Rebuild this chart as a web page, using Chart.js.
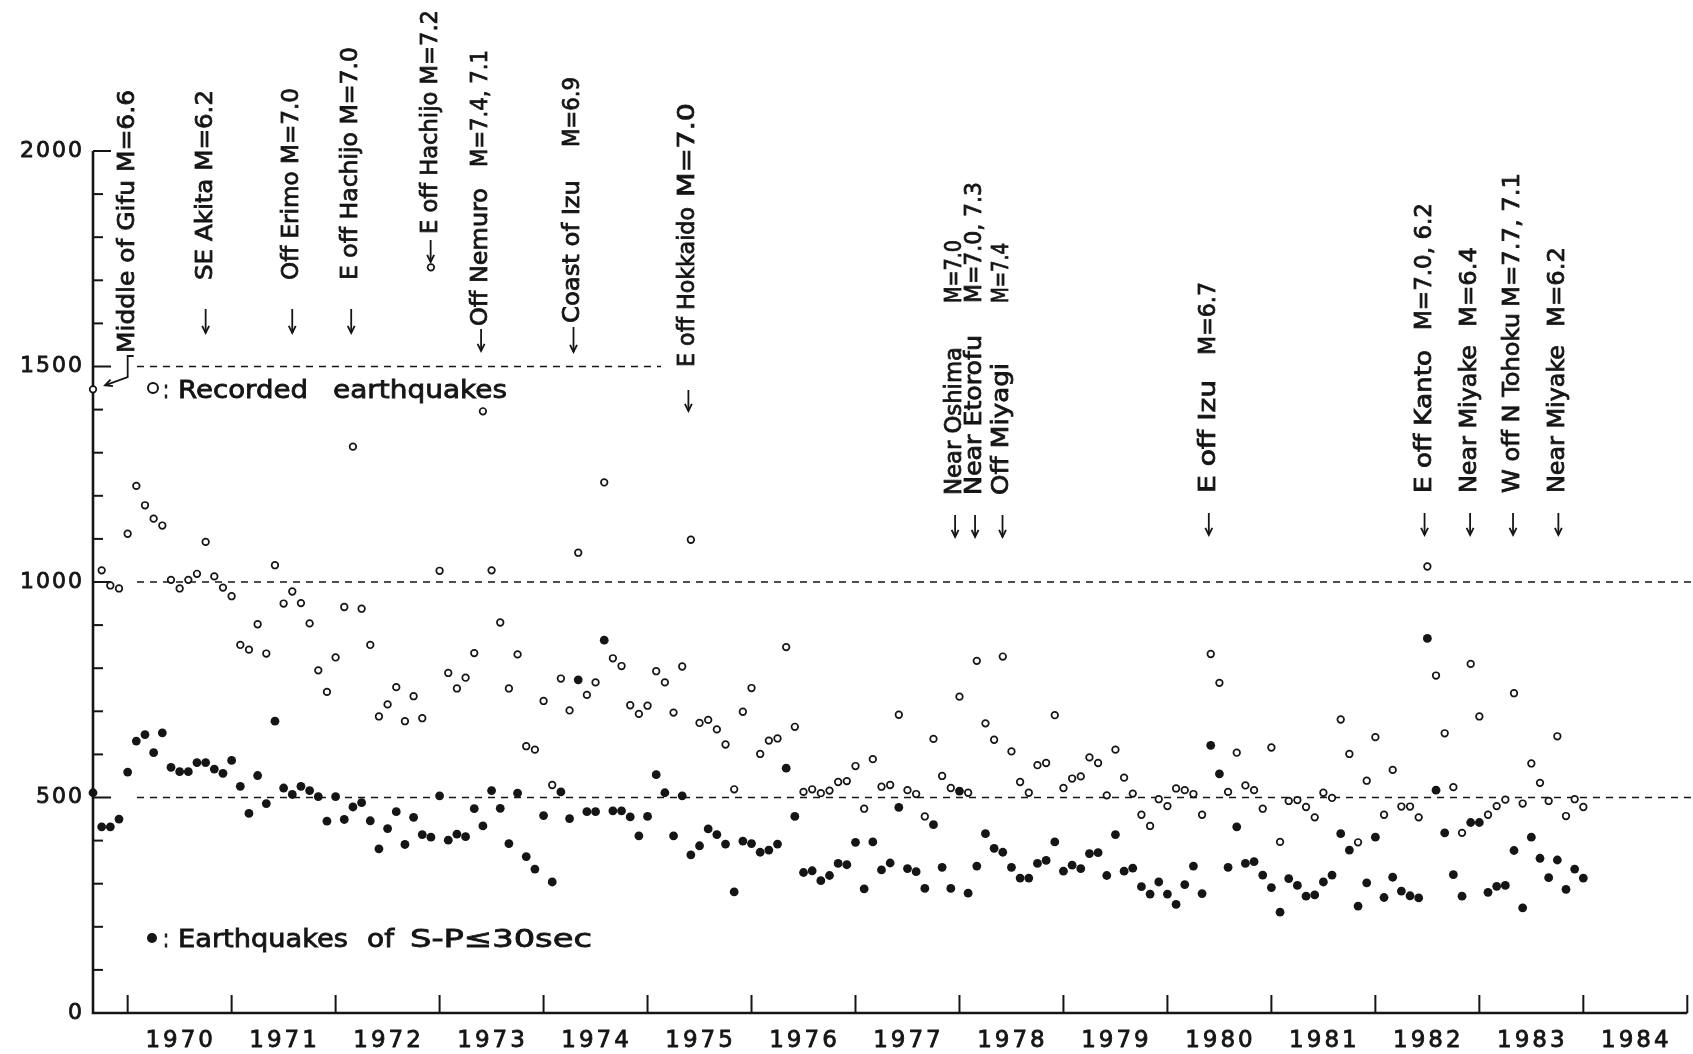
<!DOCTYPE html>
<html>
<head>
<meta charset="utf-8">
<script src="https://cdn.jsdelivr.net/npm/chart.js@4.4.1/dist/chart.umd.min.js"></script>
<style>
  html, body { margin: 0; padding: 0; background: #fff; }
  #wrap { width: 1693px; height: 1054px; }
</style>
</head>
<body>
<div id="wrap"><canvas id="quakes" width="1693" height="1054"></canvas></div>
<script>
// monthly numbers, first value is Sep 1969, last is Jan 1984
const startYear = 1969;
const startMonth = 9;

// open circles: recorded earthquakes
const recorded = [
  1447, 1027, 992, 985,
  1112, 1223, 1178, 1147, 1131, 1005, 985, 1005, 1019, 1093, 1013, 987,
  967, 854, 843, 902, 834, 1039, 950, 978, 951, 904, 795, 745,
  825, 942, 1314, 938, 854, 688, 716, 756, 677, 735, 684, 1730,
  1026, 789, 753, 778, 835, 1396, 1027, 906, 753, 832, 619, 611,
  724, 529, 776, 702, 1068, 738, 767, 1231, 823, 805, 714, 694,
  713, 793, 767, 697, 804, 1098, 673, 680, 658, 623, 519, 699,
  754, 601, 632, 637, 849, 664, 513, 519, 510, 516, 536, 538,
  573, 474, 589, 525, 529, 692, 517, 508, 456, 636, 550, 522,
  734, 511, 817, 672, 634, 827, 607, 536, 511, 575, 580, 691,
  522, 544, 549, 593, 580, 505, 611, 546, 509, 460, 434, 496,
  480, 521, 517, 508, 460, 833, 766, 513, 604, 528, 517, 474,
  616, 397, 492, 494, 478, 454, 511, 499, 681, 601, 396, 539,
  640, 460, 564, 479, 479, 454, 1036, 783, 649, 524, 418, 810,
  688, 460, 480, 495, 742, 486, 579, 534, 492, 642, 457, 496,
  478
];

// filled dots: earthquakes of S-P <= 30 sec
const shortSP = [
  511, 432, 432, 450,
  559, 631, 646, 604, 650, 570, 560, 560, 581, 581, 566, 556,
  586, 526, 463, 551, 486, 677, 522, 507, 526, 516, 502, 445,
  502, 449, 478, 488, 446, 381, 428, 467, 391, 454, 414, 408,
  504, 401, 415, 409, 474, 434, 516, 475, 393, 510, 363, 334,
  458, 304, 513, 451, 773, 467, 467, 865, 469, 469, 455, 411,
  456, 553, 511, 411, 504, 367, 388, 427, 414, 392, 281, 399,
  393, 373, 378, 392, 568, 456, 326, 330, 307, 319, 347, 344,
  396, 288, 397, 332, 348, 477, 335, 328, 289, 437, 338, 289,
  515, 278, 341, 416, 382, 373, 338, 313, 313, 347, 354, 397,
  329, 343, 335, 370, 372, 319, 414, 329, 336, 293, 276, 304,
  276, 252, 298, 341, 277, 621, 555, 338, 432, 347, 351, 320,
  291, 234, 312, 296, 271, 274, 304, 320, 416, 378, 248, 302,
  408, 268, 315, 283, 272, 267, 869, 517, 418, 321, 271, 442,
  442, 280, 294, 296, 377, 244, 408, 359, 314, 355, 287, 334,
  313
];

const yearLabels = ['1970','1971','1972','1973','1974','1975','1976','1977','1978','1979','1980','1981','1982','1983','1984'];
const yTickLabels = [0, 500, 1000, 1500, 2000];
const dashedLevels = [500, 1000, 1500];

// big earthquakes marked on top of the chart
const quakeNames = ['Middle of Gifu','SE Akita','Off Erimo','E off Hachijo','E off Hachijo','Off Nemuro','Coast of Izu','E off Hokkaido',
  'Near Oshima','Near Etorofu','Off Miyagi','E off Izu','E off Kanto','Near Miyake','W off N Tohoku','Near Miyake'];
const quakeMags = ['M=6.6','M=6.2','M=7.0','M=7.0','M=7.2','M=7.4, 7.1','M=6.9','M=7.0',
  'M=7.0','M=7.0, 7.3','M=7.4','M=6.7','M=7.0, 6.2','M=6.4','M=7.7, 7.1','M=6.2'];
const quakeAt = [1970.0, 1970.75, 1971.583, 1972.15, 1972.914, 1973.399, 1974.288, 1975.393,
  1977.958, 1978.15, 1978.414, 1980.398, 1982.473, 1982.911, 1983.324, 1983.76];

// layout of the vertical labels in pixels: [nameBottom, nameTop, magBottom, magTop, arrowTop, arrowBottom]
// magBottom null -> name and magnitude written as one run
const labelLayout = [
  [353, 90, null, null, null, null],
  [280, 90, null, null, 309, 333],
  [280, 88, null, null, 309, 333],
  [280, 47, null, null, 309, 333],
  [234, 10, null, null, 240, 262],
  [326, 188, 167, 50, 329, 351],
  [323, 180, 147, 77, 327, 352],
  [367, 207, 197, 103, 390, 411],
  [495, 347, 303, 240, 515, 537],
  [495, 335, 303, 182, 515, 537],
  [495, 363, 303, 243, 515, 537],
  [493, 380, 355, 282, 513, 535],
  [493, 350, 330, 203, 513, 535],
  [493, 345, 327, 247, 513, 535],
  [493, 313, 307, 173, 513, 535],
  [493, 345, 327, 247, 513, 535]
];

const ink = '#151515';
const labelFont = '23px "DejaVu Sans"';

const toPoints = arr => arr.map((v, i) => ({ x: startYear + (startMonth - 1) / 12 + i / 12, y: v }));

// text a bit heavier than the regular face, like the hand lettering
function inked(ctx, str, x, y) {
  ctx.fillText(str, x, y);
  ctx.lineWidth = 0.8;
  ctx.strokeText(str, x, y);
}

function vText(ctx, str, x, yBottom, yTop) {
  ctx.save();
  ctx.font = labelFont;
  const w = ctx.measureText(str).width;
  ctx.translate(x, yBottom);
  ctx.rotate(-Math.PI / 2);
  ctx.scale((yBottom - yTop) / w, 1);
  ctx.textAlign = 'left';
  ctx.textBaseline = 'middle';
  inked(ctx, str, 0, 0);
  ctx.restore();
}

function hText(ctx, str, x0, x1, base, font) {
  ctx.save();
  ctx.font = font;
  const w = ctx.measureText(str).width;
  ctx.translate(x0, base);
  ctx.scale((x1 - x0) / w, 1);
  ctx.textAlign = 'left';
  ctx.textBaseline = 'alphabetic';
  inked(ctx, str, 0, 0);
  ctx.restore();
}

function arrowHead(ctx, fx, fy, tx, ty) {
  const a = Math.atan2(ty - fy, tx - fx);
  const len = 8, spread = 0.45;
  ctx.beginPath();
  ctx.moveTo(tx - len * Math.cos(a - spread), ty - len * Math.sin(a - spread));
  ctx.lineTo(tx, ty);
  ctx.lineTo(tx - len * Math.cos(a + spread), ty - len * Math.sin(a + spread));
  ctx.stroke();
}

const paper = {
  id: 'paper',
  beforeDatasetsDraw(chart) {
    const { ctx, chartArea, scales: { x, y } } = chart;
    ctx.save();
    ctx.strokeStyle = ink;
    ctx.lineCap = 'butt';

    // dashed guide lines
    ctx.lineWidth = 1.6;
    ctx.setLineDash([7, 6]);
    dashedLevels.forEach(v => {
      const yy = y.getPixelForValue(v);
      ctx.beginPath();
      ctx.moveTo(137, yy);
      ctx.lineTo(v === 1500 ? 661 : chart.width, yy);
      ctx.stroke();
    });
    ctx.setLineDash([]);

    // axes
    const y0 = y.getPixelForValue(0);
    ctx.lineWidth = 2.6;
    ctx.beginPath();
    ctx.moveTo(chartArea.left, y.getPixelForValue(2000));
    ctx.lineTo(chartArea.left, y0);
    ctx.lineTo(chartArea.right, y0);
    ctx.stroke();

    // inward ticks
    ctx.lineWidth = 2;
    for (let v = 100; v <= 2000; v += 100) {
      const yy = y.getPixelForValue(v);
      const len = v % 500 === 0 ? 18 : 10;
      ctx.beginPath();
      ctx.moveTo(chartArea.left, yy);
      ctx.lineTo(chartArea.left + len, yy);
      ctx.stroke();
    }
    for (let yr = 1970; yr <= 1985; yr++) {
      const xx = x.getPixelForValue(yr);
      ctx.beginPath();
      ctx.moveTo(xx, y0);
      ctx.lineTo(xx, y0 - 18);
      ctx.stroke();
    }
    ctx.restore();
  },
  afterDraw(chart) {
    const { ctx, scales: { x, y } } = chart;
    ctx.save();
    ctx.fillStyle = ink;
    ctx.strokeStyle = ink;

    // axis numbers
    ctx.font = '22px "DejaVu Sans"';
    ctx.letterSpacing = '2px';
    ctx.textAlign = 'right';
    ctx.textBaseline = 'middle';
    yTickLabels.forEach(v => inked(ctx, String(v), 84, y.getPixelForValue(v)));
    ctx.font = '23px "DejaVu Sans"';
    ctx.letterSpacing = '3px';
    ctx.textAlign = 'center';
    yearLabels.forEach(lab => inked(ctx, lab, x.getPixelForValue(Number(lab) + 0.5) + 1, 1041));
    ctx.letterSpacing = '0px';

    // legend
    ctx.lineWidth = 2;
    ctx.beginPath();
    ctx.arc(153, 388, 5, 0, Math.PI * 2);
    ctx.stroke();
    ctx.beginPath();
    ctx.arc(152, 938, 5, 0, Math.PI * 2);
    ctx.fill();
    const legendFont = '25px "DejaVu Sans"';
    hText(ctx, ':', 163, 169, 398, legendFont);
    hText(ctx, 'Recorded', 178, 308, 398, legendFont);
    hText(ctx, 'earthquakes', 333, 507, 398, legendFont);
    hText(ctx, ':', 163, 169, 947, legendFont);
    hText(ctx, 'Earthquakes', 178, 348, 947, legendFont);
    hText(ctx, 'of', 367, 394, 947, legendFont);
    hText(ctx, 'S-P\u226430sec', 410, 592, 947, legendFont);

    // earthquake labels and arrows
    quakeNames.forEach((name, i) => {
      const L = labelLayout[i];
      const xx = x.getPixelForValue(quakeAt[i]);
      if (L[2] === null) {
        vText(ctx, name + ' ' + quakeMags[i], xx, L[0], L[1]);
      } else {
        vText(ctx, name, xx, L[0], L[1]);
        vText(ctx, quakeMags[i], xx, L[2], L[3]);
      }
      if (L[4] !== null) {
        ctx.lineWidth = 1.8;
        ctx.beginPath();
        ctx.moveTo(xx, L[4]);
        ctx.lineTo(xx, L[5]);
        ctx.stroke();
        arrowHead(ctx, xx, L[4], xx, L[5]);
      }
    });

    // bracket from the Gifu label to the first point
    const gx = x.getPixelForValue(quakeAt[0]);
    const px = x.getPixelForValue(startYear + (startMonth - 1) / 12) + 12;
    const py = y.getPixelForValue(recorded[0]) - 4;
    ctx.lineWidth = 1.8;
    ctx.beginPath();
    ctx.moveTo(gx + 6, 356);
    ctx.lineTo(gx, 356);
    ctx.lineTo(gx, 377);
    ctx.lineTo(px, py);
    ctx.stroke();
    arrowHead(ctx, gx, 377, px, py);

    ctx.restore();
  }
};

new Chart(document.getElementById('quakes'), {
  type: 'scatter',
  data: {
    datasets: [
      {
        label: 'Recorded earthquakes',
        data: toPoints(recorded),
        pointStyle: 'circle',
        pointRadius: 3.3,
        pointBorderWidth: 1.7,
        pointBackgroundColor: '#fff',
        pointBorderColor: ink,
        clip: false
      },
      {
        label: 'Earthquakes of S-P\u226430sec',
        data: toPoints(shortSP),
        pointStyle: 'circle',
        pointRadius: 4.4,
        pointBorderWidth: 0,
        pointBackgroundColor: ink,
        pointBorderColor: ink,
        clip: false
      }
    ]
  },
  options: {
    responsive: false,
    animation: false,
    devicePixelRatio: 1,
    layout: { padding: { left: 93, right: 4, top: 151, bottom: 41 } },
    plugins: { legend: { display: false }, tooltip: { enabled: false } },
    scales: {
      x: { type: 'linear', min: startYear + (startMonth - 1) / 12, max: 1985, display: false },
      y: { min: 0, max: 2000, display: false }
    }
  },
  plugins: [paper]
});
</script>
</body>
</html>
